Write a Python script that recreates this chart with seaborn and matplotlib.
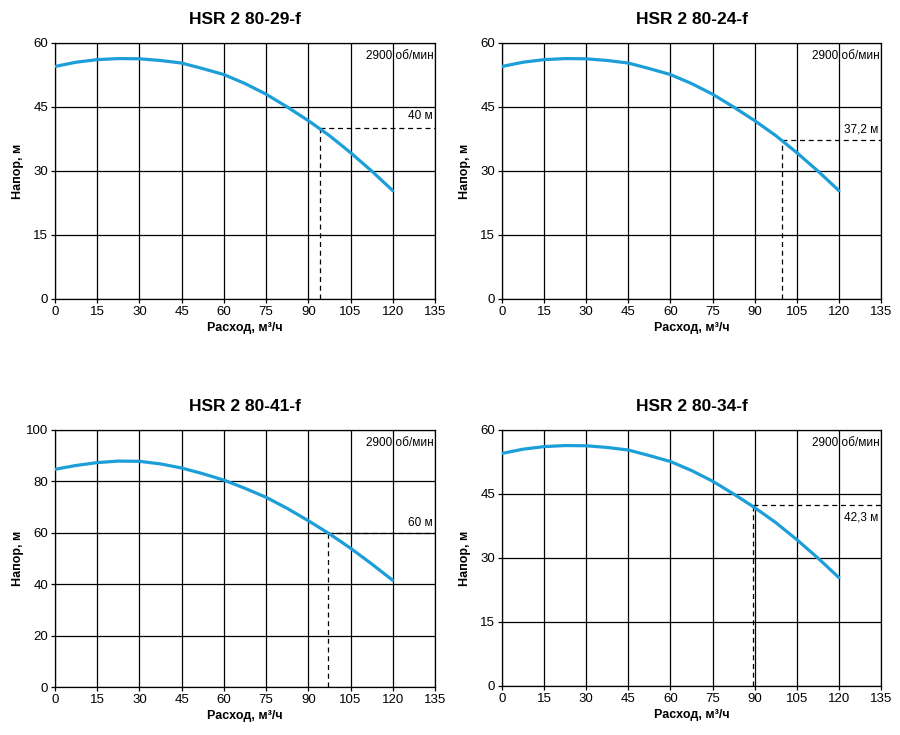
import numpy as np
import pandas as pd
import matplotlib
matplotlib.use('Agg')
import matplotlib.pyplot as plt
import seaborn as sns

# подача, м3/ч (точки)
flow = [0, 7.5, 15, 22.5, 30, 37.5, 45, 52.5, 60, 67.5, 75, 82.5, 90, 97.5, 105, 112.5, 120]

# напор для шкалы 0-60
head_60 = [54.5, 55.5, 56.1, 56.35, 56.3, 55.9, 55.3, 54.0, 52.6, 50.5, 48.0, 45.0,
           41.8, 38.3, 34.3, 30.0, 25.4]
# напор для шкалы 0-100
head_100 = [84.7, 86.2, 87.3, 87.9, 87.8, 86.8, 85.2, 83.0, 80.5, 77.3, 73.8, 69.5,
            64.7, 59.6, 54.0, 47.9, 41.5]

titles = ['HSR 2 80-29-f', 'HSR 2 80-24-f', 'HSR 2 80-41-f', 'HSR 2 80-34-f']
duty_q = [94.3, 99.7, 97.0, 89.3]
duty_h = [40, 37.2, 60, 42.3]
duty_labels = ['40 м', '37,2 м', '60 м', '42,3 м']
label_offset = [9, 7.5, 7, -8.5]
ymax = [60, 60, 100, 60]
ystep = [15, 15, 20, 15]
x_ticks = list(range(0, 136, 15))

sns.set_theme(style='white', rc={'text.color': 'black', 'xtick.color': 'black',
                                 'ytick.color': 'black', 'axes.labelcolor': 'black'})
plt.rcParams['font.family'] = ['Liberation Sans', 'DejaVu Sans']

fig = plt.figure(figsize=(9, 7.35), dpi=100)
positions = [
    [0.0611, 0.5932, 0.4222, 0.3483],
    [0.5578, 0.5932, 0.4211, 0.3483],
    [0.0611, 0.0653, 0.4222, 0.3497],
    [0.5578, 0.0667, 0.4211, 0.3483],
]

blue = '#1c9fd9'

for i in range(4):
    ax = fig.add_axes(positions[i])
    heads = head_100 if ymax[i] == 100 else head_60
    df = pd.DataFrame({'q': flow, 'h': heads})

    sns.lineplot(data=df, x='q', y='h', ax=ax, color=blue, linewidth=2.3, zorder=4)

    ax.set_xlim(0, 135)
    ax.set_ylim(0, ymax[i])
    ax.set_xticks(x_ticks)
    ax.set_yticks(range(0, ymax[i] + 1, ystep[i]))
    ax.grid(True, color='black', linewidth=0.9)
    ax.set_axisbelow(True)
    for s in ax.spines.values():
        s.set_color('black')
        s.set_linewidth(0.9)
    ax.tick_params(axis='both', labelsize=9.5, length=3, width=0.9, color='black',
                   direction='out', bottom=True, left=True, pad=2)

    # рабочая точка
    q, h = duty_q[i], duty_h[i]
    ax.plot([q, q], [0, h], color='black', linestyle=(0, (4, 3)), linewidth=0.9, zorder=3)
    ax.plot([q, 135], [h, h], color='black', linestyle=(0, (4, 3)), linewidth=0.9, zorder=3)
    ax.annotate(duty_labels[i], xy=(134, h), xytext=(0, label_offset[i]),
                textcoords='offset points', ha='right', va='center', fontsize=8.5, zorder=5)

    ax.text(0.996, 0.948, '2900 об/мин', transform=ax.transAxes, ha='right', va='center',
            fontsize=8.5, zorder=5)

    ax.set_title(titles[i], fontsize=12.5, fontweight='bold', pad=14)
    ax.set_xlabel('Расход, м³/ч', fontsize=9, fontweight='bold', labelpad=3)
    ax.set_ylabel('Напор, м', fontsize=9, fontweight='bold')
    ax.yaxis.set_label_coords(-0.082, 0.5)

fig.savefig('out.png', dpi=100, facecolor='white')
